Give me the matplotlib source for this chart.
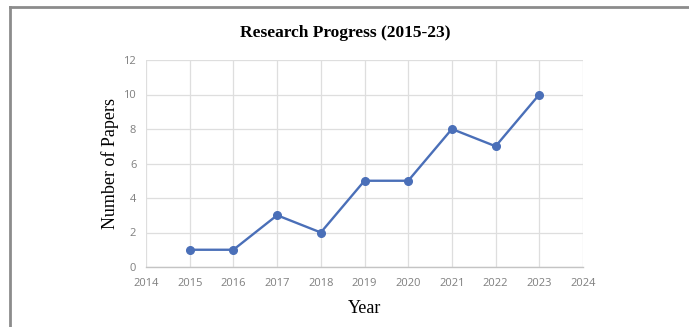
import matplotlib
matplotlib.use("Agg")
import matplotlib.pyplot as plt
from matplotlib.lines import Line2D

# ---------- DATA ----------
years = [2015, 2016, 2017, 2018, 2019, 2020, 2021, 2022, 2023]
papers = [1, 1, 3, 2, 5, 5, 8, 7, 10]
x_ticks = list(range(2014, 2025))
y_ticks = [0, 2, 4, 6, 8, 10, 12]

W, H = 689, 327
fig = plt.figure(figsize=(W / 100, H / 100), dpi=100)
fig.patch.set_facecolor("white")

ax = fig.add_axes([146 / W, 1 - 267 / H, (583 - 146) / W, (267 - 60) / H])

ax.plot(years, papers, color="#4a6fb8", linewidth=1.7, marker="o",
        markersize=5.5, markerfacecolor="#4a6fb8", markeredgecolor="#4a6fb8",
        zorder=3)

ax.set_xlim(2014, 2024)
ax.set_ylim(0, 12)
ax.set_xticks(x_ticks)
ax.set_yticks(y_ticks)
ax.grid(True, color="#dedede", linewidth=0.9)
ax.set_axisbelow(True)

for s in ["top", "right", "left"]:
    ax.spines[s].set_visible(False)
ax.spines["bottom"].set_color("#c4c4c4")
ax.spines["bottom"].set_linewidth(1.0)
ax.tick_params(length=0, labelsize=8, labelcolor="#7f7f7f")
ax.tick_params(axis="x", pad=8)
ax.tick_params(axis="y", pad=7)
for lab in ax.get_xticklabels() + ax.get_yticklabels():
    lab.set_family("Open Sans")

serif = "Liberation Serif"
ax.set_xlabel("Year", family=serif, fontsize=13, labelpad=8)
ax.set_ylabel("Number of Papers", family=serif, fontsize=13, labelpad=3)
fig.text(345 / W, 1 - 33 / H, "Research Progress (2015-23)", family=serif,
         fontsize=12.5, fontweight="bold", ha="center", va="center")

# gray frame along the top and left edges
fig.add_artist(Line2D([10 / W, 10 / W], [0, 1 - 7 / H], transform=fig.transFigure,
                      color="#8c8c8c", linewidth=2))
fig.add_artist(Line2D([10 / W, 1], [1 - 7 / H, 1 - 7 / H], transform=fig.transFigure,
                      color="#8c8c8c", linewidth=2))

fig.savefig("out.png", dpi=100)
